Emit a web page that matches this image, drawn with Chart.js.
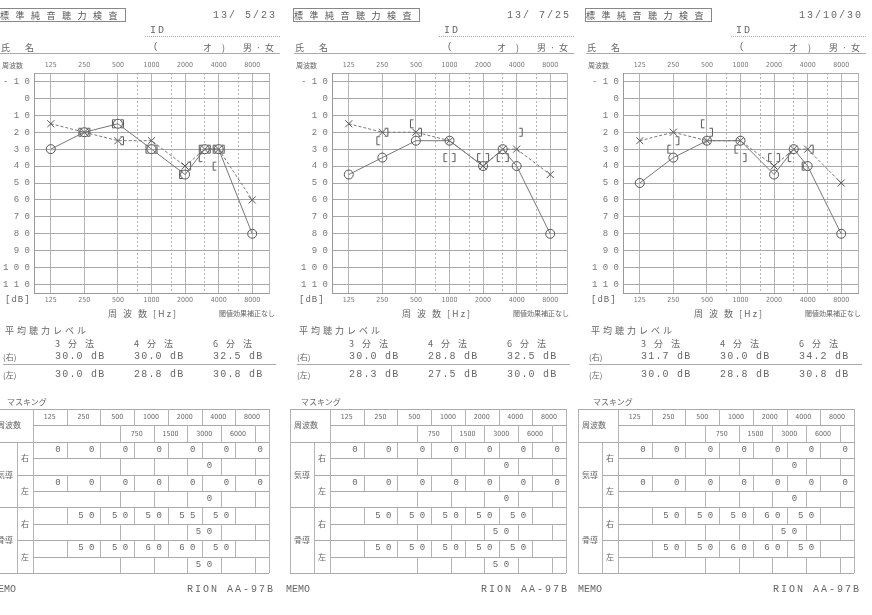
<!DOCTYPE html>
<html lang="ja">
<head>
<meta charset="UTF-8">
<title>標準純音聴力検査</title>
<script src="https://cdn.jsdelivr.net/npm/chart.js"></script>
<style>
    body {
        margin: 0;
        width: 872px;
        height: 615px;
        overflow: hidden;
        position: relative;
        background: #fff;
        color: #666;
        font-family: 'Noto Sans CJK JP', sans-serif;
    }
    .t { position: absolute; white-space: nowrap; line-height: 1; filter: grayscale(1); }
    .mono { font-family: 'Liberation Mono', 'DejaVu Sans Mono', monospace; }
    .cond { font-family: 'DejaVu Sans Condensed', 'Liberation Sans Narrow', sans-serif; }
    .hl { position: absolute; height: 0; border-top: 1px solid #aaa; }
    .vl { position: absolute; width: 0; border-left: 1px solid #b4b4b4; }
    .box { position: absolute; border: 1px solid #888; }
    .chart { position: absolute; }
</style>
</head>
<body>
<script>
// ---- data ----
const freqs = [125, 250, 500, 1000, 2000, 3000, 4000, 8000];
const octaveTicks = [125, 250, 500, 1000, 2000, 4000, 8000];
const midTicks = [750, 1500, 3000, 6000];
const dbTicks = [-10, 0, 10, 20, 30, 40, 50, 60, 70, 80, 90, 100, 110];
const dates = ['13/ 5/23', '13/ 7/25', '13/10/30'];

// air conduction (O = right, X = left)
const rightAir1 = [30, 20, 15, 30, 45, 30, 30, 80];
const leftAir1  = [15, 20, 25, 25, 40, 30, 30, 60];
const rightAir2 = [45, 35, 25, 25, 40, 30, 40, 80];
const leftAir2  = [15, 20, 20, 25, 40, 30, 30, 45];
const rightAir3 = [50, 35, 25, 25, 45, 30, 40, 80];
const leftAir3  = [25, 20, 25, 25, 40, 30, 30, 50];

// bone conduction ([ = right, ] = left) as [Hz, dB]
const rightBone1 = [[250, 20], [500, 15], [1000, 30], [2000, 45], [3000, 30], [3000, 35], [4000, 30], [4000, 40]];
const leftBone1  = [[250, 20], [500, 15], [500, 25], [1000, 30], [2000, 40], [3000, 30], [4000, 30]];
const rightBone2 = [[250, 25], [500, 15], [1000, 35], [2000, 35], [3000, 35]];
const leftBone2  = [[250, 20], [500, 20], [1000, 35], [2000, 35], [3000, 35], [4000, 20]];
const rightBone3 = [[250, 30], [500, 15], [1000, 30], [2000, 35], [3000, 35], [4000, 40]];
const leftBone3  = [[250, 25], [500, 20], [1000, 35], [2000, 35], [4000, 30]];

// average hearing level
const avgMethods = ['3 分 法', '4 分 法', '6 分 法'];
const avgRight1 = [30.0, 30.0, 32.5];
const avgLeft1  = [30.0, 28.8, 30.8];
const avgRight2 = [30.0, 28.8, 32.5];
const avgLeft2  = [28.3, 27.5, 30.0];
const avgRight3 = [31.7, 30.0, 34.2];
const avgLeft3  = [30.0, 28.8, 30.8];

// masking
const maskFreqs = [125, 250, 500, 1000, 2000, 4000, 8000];
const maskMidFreqs = [750, 1500, 3000, 6000];
const maskAir = [0, 0, 0, 0, 0, 0, 0];
const maskAirMid = [null, null, 0, null];
const maskBoneR1 = [null, 50, 50, 50, 55, 50, null];
const maskBoneRMid1 = [null, null, 50, null];
const maskBoneL1 = [null, 50, 50, 60, 60, 50, null];
const maskBoneLMid1 = [null, null, 50, null];
const maskBoneR2 = [null, 50, 50, 50, 50, 50, null];
const maskBoneRMid2 = [null, null, 50, null];
const maskBoneL2 = [null, 50, 50, 50, 50, 50, null];
const maskBoneLMid2 = [null, null, 50, null];
const maskBoneR3 = [null, 50, 50, 50, 60, 50, null];
const maskBoneRMid3 = [null, null, 50, null];
const maskBoneL3 = [null, 50, 50, 60, 60, 50, null];
const maskBoneLMid3 = [null, null, null, null];

const panels = [
    { date: dates[0], ra: rightAir1, la: leftAir1, rb: rightBone1, lb: leftBone1, avgR: avgRight1, avgL: avgLeft1,
      mbR: maskBoneR1, mbRm: maskBoneRMid1, mbL: maskBoneL1, mbLm: maskBoneLMid1, tx: 0, px: 34, tb: -7 },
    { date: dates[1], ra: rightAir2, la: leftAir2, rb: rightBone2, lb: leftBone2, avgR: avgRight2, avgL: avgLeft2,
      mbR: maskBoneR2, mbRm: maskBoneRMid2, mbL: maskBoneL2, mbLm: maskBoneLMid2, tx: 294, px: 332, tb: 290 },
    { date: dates[2], ra: rightAir3, la: leftAir3, rb: rightBone3, lb: leftBone3, avgR: avgRight3, avgL: avgLeft3,
      mbR: maskBoneR3, mbRm: maskBoneRMid3, mbL: maskBoneL3, mbLm: maskBoneLMid3, tx: 586, px: 623, tb: 578 }
];

// ---- little DOM helpers for the printed form ----
function put(x, y, s, size, cls, align, spacing) {
    const d = document.createElement('div');
    d.className = 't ' + (cls || '');
    d.textContent = s;
    d.style.left = x + 'px';
    d.style.top = y + 'px';
    d.style.fontSize = size + 'px';
    if (spacing) d.style.letterSpacing = spacing + 'px';
    const tx = align === 'c' ? '-50%' : align === 'r' ? '-100%' : '0';
    d.style.transform = 'translate(' + tx + ',-50%)';
    document.body.appendChild(d);
    return d;
}
function hline(x1, x2, y, style) {
    const d = document.createElement('div');
    d.className = 'hl';
    d.style.left = x1 + 'px';
    d.style.top = y + 'px';
    d.style.width = (x2 - x1) + 'px';
    if (style) d.style.borderTopStyle = style;
    document.body.appendChild(d);
}
function vline(x, y1, y2) {
    const d = document.createElement('div');
    d.className = 'vl';
    d.style.left = x + 'px';
    d.style.top = y1 + 'px';
    d.style.height = (y2 - y1) + 'px';
    document.body.appendChild(d);
}

function bracket(open) {
    const c = document.createElement('canvas');
    c.width = 18; c.height = 11;
    const g = c.getContext('2d');
    g.strokeStyle = '#555';
    g.lineWidth = 1;
    g.beginPath();
    if (open) { g.moveTo(6.5, 1.5); g.lineTo(3.5, 1.5); g.lineTo(3.5, 9.5); g.lineTo(6.5, 9.5); }
    else { g.moveTo(11.5, 1.5); g.lineTo(14.5, 1.5); g.lineTo(14.5, 9.5); g.lineTo(11.5, 9.5); }
    g.stroke();
    return c;
}
const openBr = bracket(true);
const closeBr = bracket(false);

const xMin = 125 / Math.SQRT2;
const xMax = 8000 * Math.SQRT2;
const xGrid = [xMin, 125, 250, 500, 750, 1000, 1500, 2000, 3000, 4000, 6000, 8000, xMax];

Chart.defaults.font.family = "'Liberation Mono', monospace";
Chart.defaults.color = '#777';

function audiogram(p) {
    const wrap = document.createElement('div');
    wrap.className = 'chart';
    wrap.style.left = (p.px - 34) + 'px';
    wrap.style.top = '58px';
    wrap.style.width = '275px';
    wrap.style.height = '248px';
    const cv = document.createElement('canvas');
    wrap.appendChild(cv);
    document.body.appendChild(wrap);

    const tickFont = { family: "'DejaVu Sans Condensed', sans-serif", size: 7 };
    const xLabel = v => octaveTicks.includes(v) ? String(v) : '';

    new Chart(cv, {
        type: 'scatter',
        data: {
            datasets: [
                {
                    data: freqs.map((f, i) => ({ x: f, y: p.ra[i] })),
                    showLine: true, borderColor: '#777', borderWidth: 1,
                    pointStyle: 'circle', pointRadius: 4.5, pointBorderColor: '#555',
                    pointBackgroundColor: 'rgba(0,0,0,0)', pointBorderWidth: 1
                },
                {
                    data: freqs.map((f, i) => ({ x: f, y: p.la[i] })),
                    showLine: true, borderColor: '#777', borderWidth: 1, borderDash: [3, 2],
                    pointStyle: 'crossRot', pointRadius: 5, pointBorderColor: '#555', pointBorderWidth: 1
                },
                {
                    data: p.rb.map(d => ({ x: d[0], y: d[1] })),
                    showLine: false, pointStyle: openBr
                },
                {
                    data: p.lb.map(d => ({ x: d[0], y: d[1] })),
                    showLine: false, pointStyle: closeBr
                }
            ]
        },
        options: {
            responsive: true,
            maintainAspectRatio: false,
            animation: false,
            layout: { padding: 0 },
            plugins: { legend: { display: false }, tooltip: { enabled: false } },
            scales: {
                x: {
                    type: 'logarithmic', position: 'bottom', min: xMin, max: xMax,
                    afterBuildTicks: s => { s.ticks = xGrid.map(v => ({ value: v })); },
                    afterFit: s => { s.height = 13; },
                    ticks: { callback: xLabel, autoSkip: false, maxRotation: 0, font: tickFont, padding: 3, color: '#777' },
                    grid: { color: '#b4b4b4', lineWidth: 1, drawTicks: false },
                    border: { color: '#999', dash: ctx => (ctx.tick && midTicks.includes(ctx.tick.value)) ? [2, 2] : [] }
                },
                xTop: {
                    type: 'logarithmic', position: 'top', min: xMin, max: xMax,
                    afterBuildTicks: s => { s.ticks = octaveTicks.map(v => ({ value: v })); },
                    afterFit: s => { s.height = 15; },
                    ticks: { callback: xLabel, autoSkip: false, maxRotation: 0, font: tickFont, padding: 4, color: '#777' },
                    grid: { drawOnChartArea: false, drawTicks: false },
                    border: { display: false }
                },
                y: {
                    min: -15, max: 115, reverse: true,
                    afterBuildTicks: s => { s.ticks = [-15].concat(dbTicks, [115]).map(v => ({ value: v })); },
                    afterFit: s => { s.width = 34; },
                    ticks: {
                        callback: v => dbTicks.includes(v) ? String(v).split('').join(' ') : '',
                        font: { size: 9 }, padding: 4, color: '#777'
                    },
                    grid: { color: '#a8a8a8', lineWidth: 1, drawTicks: false },
                    border: { color: '#999' }
                }
            }
        }
    });
}

function maskTable(p) {
    const L = p.tb, sub = L + 24, F = L + 40, cw = 33.7, R = F + 7 * cw;
    const y = i => 409 + i * 16.4;
    [0, 2, 6, 10].forEach(i => hline(L, R, y(i)));
    [1, 3, 5, 7, 9].forEach(i => hline(F, R, y(i)));
    [4, 8].forEach(i => hline(sub, R, y(i)));
    vline(L, y(0), y(10));
    vline(sub, y(2), y(10));
    vline(F, y(0), y(10));
    vline(R, y(0), y(10));
    for (let r = 0; r < 10; r++) {
        if (r % 2 === 0) {
            for (let k = 1; k < 7; k++) vline(F + k * cw, y(r), y(r + 1));
        } else {
            for (let k = 0; k < 5; k++) vline(F + (2.58 + k) * cw, y(r), y(r + 1));
        }
    }
    maskFreqs.forEach((f, k) => put(F + (k + 0.5) * cw, y(0.5), String(f), 7, 'cond', 'c'));
    maskMidFreqs.forEach((f, k) => put(F + (3.08 + k) * cw, y(1.5), String(f), 7, 'cond', 'c'));
    put(L + 4, y(1), '周波数', 8, '', 'l');
    put(L + 12, y(4), '気導', 8, '', 'c');
    put(L + 12, y(8), '骨導', 8, '', 'c');
    [3, 5, 7, 9].forEach((r, i) => put(sub + 8, y(r), i % 2 ? '左' : '右', 8, '', 'c'));

    const rowVals = (vals, r) => vals.forEach((v, k) => {
        if (v !== null) put(F + (k + 1) * cw - 6, y(r + 0.5), String(v).split('').join(' '), 9, 'mono', 'r');
    });
    const midVals = (vals, r) => vals.forEach((v, k) => {
        if (v !== null) put(F + (3.58 + k) * cw - 9, y(r + 0.5), String(v).split('').join(' '), 9, 'mono', 'r');
    });
    rowVals(maskAir, 2); midVals(maskAirMid, 3);
    rowVals(maskAir, 4); midVals(maskAirMid, 5);
    rowVals(p.mbR, 6); midVals(p.mbRm, 7);
    rowVals(p.mbL, 8); midVals(p.mbLm, 9);
}

panels.forEach(p => {
    const x = p.tx;
    // header of the sheet
    const box = document.createElement('div');
    box.className = 'box';
    box.style.left = (x - 1) + 'px'; box.style.top = '8px';
    box.style.width = '125px'; box.style.height = '12px';
    document.body.appendChild(box);
    put(x + 62, 14.5, '標準純音聴力検査', 9, '', 'c', 6.5).style.color = '#555';
    put(x + 213, 16, p.date, 10, 'mono', 'l', 2);
    put(x + 150, 31, 'ID', 10, 'mono', 'l', 2);
    hline(x + 145, x + 280, 36, 'dotted');
    put(x + 1, 47, '氏　名', 9, '', 'l', 3);
    put(x + 153, 47, '(', 9, 'mono', 'l');
    put(x + 203, 47, 'オ )', 9, '', 'l', 4);
    put(x + 243, 47, '男 · 女', 9, '', 'l', 1);
    hline(x, x + 280, 53);
    put(x + 2, 65, '周波数', 7, '', 'l');
    put(x + 5, 300, '[dB]', 9, 'mono', 'l', 1);
    put(x + 108, 313, '周 波 数 [Hz]', 9, '', 'l', 2);
    put(x + 219, 313, '閾値効果補正なし', 7, '', 'l');

    // average hearing level
    put(x + 5, 330, '平均聴力レベル', 9, '', 'l', 3);
    avgMethods.forEach((m, i) => put(x + 55 + i * 79, 343, m, 9, '', 'l', 3));
    put(x + 3, 357, '(右)', 8, '', 'l');
    put(x + 3, 375, '(左)', 8, '', 'l');
    p.avgR.forEach((v, i) => put(x + 55 + i * 79, 357, v.toFixed(1) + ' dB', 10, 'mono', 'l', 1.2));
    p.avgL.forEach((v, i) => put(x + 55 + i * 79, 375, v.toFixed(1) + ' dB', 10, 'mono', 'l', 1.2));
    hline(x + 3, x + 276, 364);

    put(x + 7, 402, 'マスキング', 8, '', 'l');
    maskTable(p);

    put(x - 8, 590, 'MEMO', 10, 'mono', 'l');
    put(x + 187, 590, 'RION AA-97B', 10, 'mono', 'l', 2);

    audiogram(p);
});
</script>
</body>
</html>
